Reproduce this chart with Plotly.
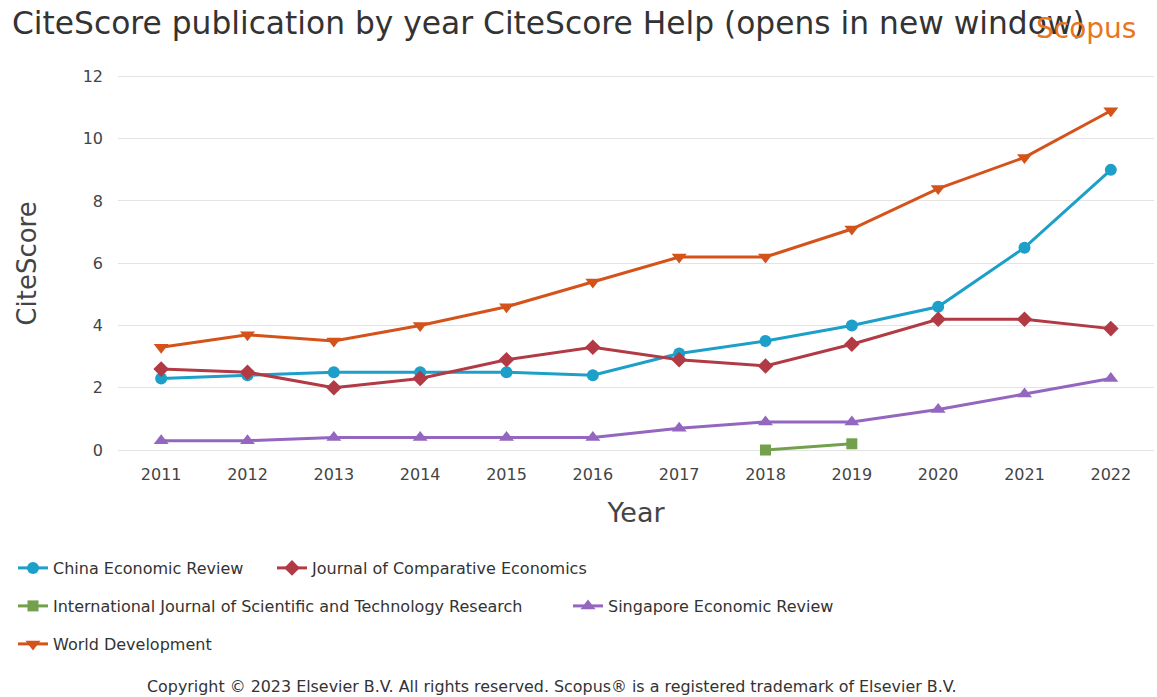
import plotly.graph_objects as go

years = ["2011", "2012", "2013", "2014", "2015", "2016", "2017", "2018", "2019", "2020", "2021", "2022"]

china_economic_review = [2.3, 2.4, 2.5, 2.5, 2.5, 2.4, 3.1, 3.5, 4.0, 4.6, 6.5, 9.0]
journal_comparative_econ = [2.6, 2.5, 2.0, 2.3, 2.9, 3.3, 2.9, 2.7, 3.4, 4.2, 4.2, 3.9]
ijstr_years = ["2018", "2019"]
ijstr = [0.0, 0.2]
singapore_econ_review = [0.3, 0.3, 0.4, 0.4, 0.4, 0.4, 0.7, 0.9, 0.9, 1.3, 1.8, 2.3]
world_development = [3.3, 3.7, 3.5, 4.0, 4.6, 5.4, 6.2, 6.2, 7.1, 8.4, 9.4, 10.9]

# name, x, y, colour, symbol, marker size, legend group, legend entry width
series = [
    ("China Economic Review", years, china_economic_review, "#1c9fc8", "circle", 12, "legend", 214),
    ("Journal of Comparative Economics", years, journal_comparative_econ, "#b23a45", "diamond", 12, "legend", None),
    ("International Journal of Scientific and Technology Research", ijstr_years, ijstr, "#72a04c", "square", 11, "legend2", 510),
    ("Singapore Economic Review", years, singapore_econ_review, "#9466bf", "triangle-up", 13, "legend2", None),
    ("World Development", years, world_development, "#d4531a", "triangle-down", 13, "legend3", None),
]

FONT = "DejaVu Sans"
W, H = 1157, 697
PL, PR, PT, PB = 118, 1154, 63.5, 463
Y0 = -(PB - 450) / 31.17
Y1 = 12 + (76 - PT) / 31.17

def ax_x(px):
    return (px - PL) / (PR - PL)

def ax_y(py):
    return (PB - py) / (PB - PT)

fig = go.Figure()
for name, xs, ys, color, sym, msize, leg, lw in series:
    tr = go.Scatter(
        x=xs, y=ys, name=name, mode="lines+markers",
        line=dict(color=color, width=3),
        marker=dict(symbol=sym, size=msize, color=color),
        legend=leg,
    )
    if lw is not None:
        tr.legendwidth = lw
    fig.add_trace(tr)

legend_common = dict(orientation="h", xanchor="left", yanchor="middle",
                     xref="container", yref="container",
                     font=dict(family=FONT, size=16, color="#333"),
                     bgcolor="rgba(0,0,0,0)", itemwidth=30, tracegroupgap=0)

fig.update_layout(
    width=W, height=H,
    margin=dict(l=PL, r=W - PR, t=PT, b=H - PB),
    paper_bgcolor="white", plot_bgcolor="white",
    font=dict(family=FONT, color="#444"),
    showlegend=True,
    legend=dict(**legend_common, x=13 / W, y=1 - 568 / H),
    legend2=dict(**legend_common, x=13 / W, y=1 - 606 / H),
    legend3=dict(**legend_common, x=13 / W, y=1 - 644 / H),
    xaxis=dict(
        type="category", categoryorder="array", categoryarray=years,
        range=[-0.5, 11.5], showgrid=False, showline=False, ticks="",
        tickfont=dict(family=FONT, size=16, color="#444"),
        title=dict(text="Year", font=dict(family=FONT, size=27, color="#444"), standoff=20),
    ),
    yaxis=dict(
        range=[Y0, Y1], tickvals=[0, 2, 4, 6, 8, 10, 12],
        showgrid=True, gridcolor="#e3e3e3", gridwidth=1, zeroline=False,
        tickfont=dict(family=FONT, size=16, color="#444"), ticklabelstandoff=14,
        title=dict(text="CiteScore", font=dict(family=FONT, size=26, color="#444"), standoff=38),
    ),
    annotations=[
        dict(text="CiteScore publication by year CiteScore Help (opens in new window)",
             x=ax_x(10), y=ax_y(22), xref="paper", yref="paper", showarrow=False,
             font=dict(family=FONT, size=31.3, color="#333"), xanchor="left", yanchor="middle"),
        dict(text="Scopus", x=ax_x(1138), y=ax_y(28), xref="paper", yref="paper", showarrow=False,
             font=dict(family=FONT, size=28, color="#e8761f"), xanchor="right", yanchor="middle"),
        dict(text="Copyright © 2023 Elsevier B.V. All rights reserved. Scopus® is a registered trademark of Elsevier B.V.",
             x=ax_x(552), y=ax_y(687), xref="paper", yref="paper", showarrow=False,
             font=dict(family=FONT, size=15.9, color="#333"), xanchor="center", yanchor="middle"),
    ],
)

fig.write_html("out.html")
